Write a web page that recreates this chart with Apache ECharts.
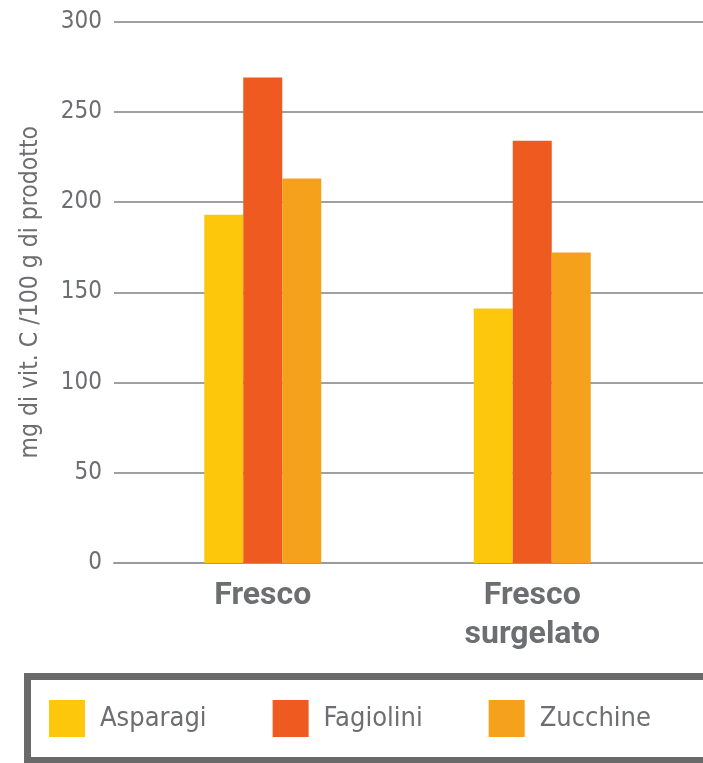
<!DOCTYPE html>
<html>
<head>
<meta charset="utf-8">
<script src="https://cdn.jsdelivr.net/npm/echarts@6/dist/echarts.min.js"></script>
<style>
html,body{margin:0;padding:0;background:#fff;}
#chart{width:703px;height:763px;}
</style>
</head>
<body>
<div id="chart"></div>
<script>
const categories = ['Fresco', 'Fresco\nsurgelato'];
const seriesNames = ['Asparagi', 'Fagiolini', 'Zucchine'];
const asparagi = [193, 141];
const fagiolini = [269, 234];
const zucchine = [213, 172];
const yTicks = [0, 50, 100, 150, 200, 250, 300];
const yTitle = 'mg di vit. C /100 g di prodotto';

const colors = ['#FDC70C', '#EF5A21', '#F5A11C'];
const gray = '#6d6e71';
const narrow = "'Liberation Sans Narrow','DejaVu Sans Condensed','Roboto',sans-serif";

const chart = echarts.init(document.getElementById('chart'), null, {renderer: 'canvas'});
const yMin = yTicks[0], yMax = yTicks[yTicks.length - 1], yStep = yTicks[1] - yTicks[0];

chart.setOption({
  animation: false,
  backgroundColor: '#ffffff',
  graphic: [
    {type: 'rect', left: 24, top: 673, z: 0, silent: true,
     shape: {x: 0, y: 0, width: 800, height: 84},
     style: {fill: '#ffffff', stroke: '#6a6a6a', lineWidth: 7}}
  ],
  grid: [
    {left: 114, right: -2, top: 21.5, bottom: 200},
    {left: 128, right: 36, top: 21.5, bottom: 200}
  ],
  xAxis: [
    {gridIndex: 0, type: 'category', data: categories, show: true,
     axisLine: {show: true, lineStyle: {color: '#9a9a9a', width: 2}},
     axisTick: {show: false}, axisLabel: {show: false}, splitLine: {show: false}},
    {gridIndex: 1, type: 'category', data: categories,
     axisLine: {show: false}, axisTick: {show: false},
     axisLabel: {color: gray, fontFamily: 'Roboto, sans-serif', fontWeight: 'bold',
                 fontSize: 32, lineHeight: 39, margin: 13}}
  ],
  yAxis: [
    {gridIndex: 0, type: 'value', min: yMin, max: yMax, interval: yStep,
     name: yTitle, nameLocation: 'middle', nameGap: 71, nameRotate: 90,
     nameTextStyle: {color: gray, fontFamily: narrow, fontSize: 24.5},
     axisLine: {show: false}, axisTick: {show: false},
     axisLabel: {color: gray, fontFamily: narrow, fontSize: 24, margin: 12},
     splitLine: {show: true, lineStyle: {color: '#a0a0a0', width: 2}}},
    {gridIndex: 1, type: 'value', min: yMin, max: yMax, interval: yStep, show: false,
     splitLine: {show: false}}
  ],
  legend: {
    left: 49, top: 700,
    orient: 'horizontal',
    data: seriesNames,
    icon: 'rect',
    itemWidth: 36, itemHeight: 37,
    itemGap: 66,
    padding: 0,
    z: 5,
    textStyle: {color: gray, fontFamily: narrow, fontSize: 27, padding: [0, 0, 0, 10]}
  },
  series: [
    {name: seriesNames[0], type: 'bar', xAxisIndex: 1, yAxisIndex: 1, data: asparagi,
     barWidth: 39, barGap: '0%', itemStyle: {color: colors[0]}},
    {name: seriesNames[1], type: 'bar', xAxisIndex: 1, yAxisIndex: 1, data: fagiolini,
     barWidth: 39, barGap: '0%', itemStyle: {color: colors[1]}},
    {name: seriesNames[2], type: 'bar', xAxisIndex: 1, yAxisIndex: 1, data: zucchine,
     barWidth: 39, barGap: '0%', itemStyle: {color: colors[2]}}
  ]
});
</script>
</body>
</html>
